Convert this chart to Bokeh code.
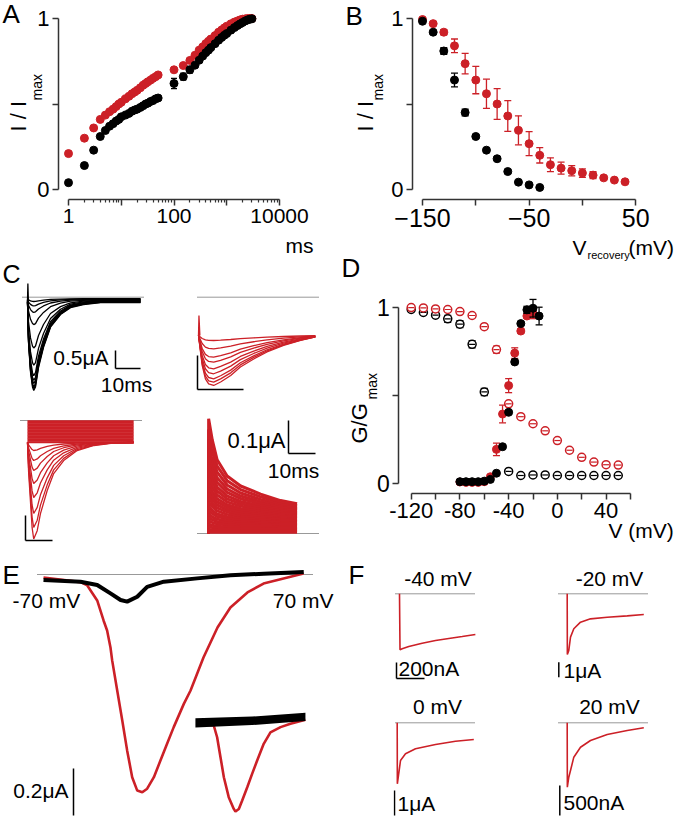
import math
from bokeh.plotting import figure
from bokeh.layouts import row, column
from bokeh.models import Range1d, FixedTicker, Label
from bokeh.embed import file_html
from bokeh.resources import INLINE

RED = "#CC2027"
BLACK = "#000000"
AXIS_COLOR = "#333333"
DOT_COLOR = "#333333"
FONT = "Liberation Sans"
MU = "\u03bc"

# ======================= DATA =======================
# ---- Panel A : recovery time course (ms, I/Imax)
A_time_ms = [1, 2, 3, 4, 5, 6, 7, 8, 9, 10, 12, 14, 16, 18, 20, 23, 26, 29, 32, 36, 40, 45, 50,
             100, 150, 200, 250, 300, 350, 400, 450, 500, 600, 700, 800, 900, 1000, 1200, 1400,
             1600, 1800, 2000, 2250, 2500, 2750, 3000]
A_red = [0.21, 0.30, 0.36, 0.41, 0.435, 0.455, 0.47, 0.485, 0.50, 0.51, 0.53, 0.545, 0.56, 0.57,
         0.58, 0.595, 0.61, 0.62, 0.63, 0.64, 0.65, 0.66, 0.67,
         0.70, 0.725, 0.755, 0.785, 0.815, 0.834, 0.853, 0.867, 0.88, 0.90, 0.92, 0.933, 0.945,
         0.955, 0.969, 0.979, 0.986, 0.992, 0.996, 0.998, 1.0, 1.0, 1.0]
A_black = [0.04, 0.14, 0.23, 0.31, 0.345, 0.37, 0.385, 0.40, 0.41, 0.425, 0.435, 0.445, 0.458,
           0.465, 0.47, 0.48, 0.49, 0.50, 0.505, 0.515, 0.52, 0.53, 0.535,
           0.62, 0.66, 0.70, 0.727, 0.756, 0.78, 0.80, 0.815, 0.83, 0.853, 0.873, 0.889, 0.902,
           0.912, 0.932, 0.947, 0.959, 0.969, 0.977, 0.986, 0.992, 0.996, 0.998]
A_black_err = [0] * 23 + [0.03, 0.02, 0.02, 0.012, 0.012, 0.012, 0.01, 0.01, 0.01, 0.01] + [0] * 13
A_xticks = [1, 10, 100, 1000, 10000]
A_xminor = [2, 3, 4, 5, 6, 7, 8, 9, 20, 30, 40, 50, 60, 70, 80, 90, 200, 300, 400, 500, 600,
            700, 800, 900, 2000, 3000, 4000, 5000, 6000, 7000, 8000, 9000]
A_xlabels = {1: "1", 10: "", 100: "100", 1000: "", 10000: "10000"}
Y_TICKS = [0, 0.5, 1]
Y_LABELS = {0: "0", 0.5: "", 1: "1"}

# ---- Panel B : voltage dependence of recovery
B_v_red = [-150, -140, -130, -120, -110, -100, -90, -80, -70, -60, -50, -40, -30, -20, -10, 0,
           10, 20, 30, 40]
B_red = [0.994, 0.97, 0.92, 0.84, 0.736, 0.64, 0.56, 0.50, 0.43, 0.346, 0.268, 0.20, 0.145,
         0.125, 0.11, 0.096, 0.084, 0.068, 0.055, 0.045]
B_red_err = [0.005, 0.01, 0.015, 0.04, 0.06, 0.08, 0.085, 0.09, 0.09, 0.085, 0.07, 0.045, 0.04,
             0.035, 0.03, 0.025, 0.02, 0.01, 0.008, 0.005]
B_v_black = [-150, -140, -130, -120, -110, -100, -90, -80, -70, -60, -50, -40]
B_black = [0.984, 0.92, 0.81, 0.64, 0.45, 0.31, 0.23, 0.18, 0.105, 0.043, 0.027, 0.012]
B_black_err = [0.005, 0.01, 0.02, 0.04, 0.02, 0.01, 0.01, 0.01, 0.01, 0.005, 0.005, 0.005]
B_xticks = [-150, -100, -50, 0, 50]
B_xlabels = {-150: "\u2212150", -100: "", -50: "\u221250", 0: "", 50: "50"}

# ---- Panel D : steady-state inactivation (open) and activation (filled)
D_v_open_red = [-120, -110, -100, -90, -80, -70, -60, -50, -40, -30, -20, -10, 0, 10, 20, 30, 40, 50]
D_red_open = [0.998, 0.996, 0.99, 0.987, 0.975, 0.953, 0.89, 0.76, 0.453, 0.38, 0.34, 0.30,
              0.245, 0.19, 0.15, 0.123, 0.108, 0.106]
D_red_open_err = [0.004, 0.004, 0.004, 0.004, 0.006, 0.008, 0.01, 0.02, 0.01, 0.008, 0.006,
                  0.006, 0.006, 0.006, 0.006, 0.006, 0.006, 0.006]
D_v_open_black = [-120, -110, -100, -90, -80, -70, -60, -40, -30, -20, -10, 0, 10, 20, 30, 40, 50]
D_black_open = [0.987, 0.97, 0.955, 0.934, 0.904, 0.79, 0.52, 0.07, 0.047, 0.05, 0.05, 0.047,
                0.047, 0.047, 0.047, 0.047, 0.047]
D_black_open_err = [0.006, 0.008, 0.01, 0.02, 0.02, 0.02, 0.02, 0.008, 0.006, 0.006, 0.006,
                    0.006, 0.006, 0.006, 0.006, 0.006, 0.006]
D_v_fill_black = [-80, -75, -70, -65, -60, -55, -50, -45, -40, -35, -30, -25, -20, -15]
D_black_fill = [0.012, 0.012, 0.012, 0.012, 0.015, 0.025, 0.06, 0.21, 0.405, 0.69, 0.907,
                0.985, 0.994, 0.95]
D_black_fill_err = [0, 0, 0, 0, 0, 0, 0, 0.01, 0.01, 0.01, 0.01, 0.02, 0.05, 0.05]
D_v_fill_red = [-80, -75, -70, -65, -60, -55, -50, -45, -40, -35, -30, -25, -20]
D_red_fill = [0.01, 0.008, 0.008, 0.008, 0.012, 0.04, 0.195, 0.395, 0.556, 0.74, 0.865, 0.95, 0.965]
D_red_fill_err = [0, 0, 0, 0, 0, 0.01, 0.035, 0.05, 0.04, 0.03, 0.01, 0.01, 0.03]
D_xticks = [-120, -100, -80, -60, -40, -20, 0, 20, 40, 60]
D_xlabels = {-120: "-120", -100: "", -80: "-80", -60: "", -40: "-40", -20: "", 0: "0",
             20: "", 40: "40", 60: ""}

# ---- Panel C : current families (t in ms, I in uA)
C1_t = [0, 0.4, 1.2, 2.0, 2.5, 3.2, 4.4, 6.4, 9.2, 13.2, 17.2, 22.4, 29.2, 45.2]
C1_shape = [0, 0.45, 0.79, 0.96, 1.0, 0.96, 0.74, 0.51, 0.28, 0.136, 0.057, 0.023, 0.0, 0.0]
C1_peak = [0.08, 0.19, 0.36, 0.69, 1.33, 1.8, 2.08, 2.2, 2.28, 2.36, 2.4, 2.44]
C1_hold = [-0.04, -0.05, -0.06, -0.07, -0.08, -0.09, -0.10, -0.11, -0.12, -0.13, -0.14, -0.15]
C1_spike_t = [0, 0.15, 0.35]
C1_spike_i = [-0.09, 0.38, -0.09]

C2_t = [0, 0.8, 1.5, 2.2, 3.3, 4.8, 7.0, 9.1, 12.0, 14.9, 18.5, 22.2, 25.4]
C2_shape = [0, 0.6, 0.87, 0.97, 1.0, 0.93, 0.8, 0.63, 0.47, 0.33, 0.2, 0.1, 0.03]
C2_peak = [0.074, 0.196, 0.319, 0.393, 0.49, 0.563, 0.637, 0.687, 0.735]
C2_hold = -0.563
C2_spike_t = [0, 0.1, 0.3]
C2_spike_i = [-0.563, -0.27, -0.563]

C3_t = [0, 0.4, 1.7, 2.3, 3.6, 4.8, 7.3, 9.7, 13.4, 18.4, 24.6, 30.9, 39.3]
C3_shape = [0, 0.3, 0.88, 1.0, 0.914, 0.737, 0.498, 0.322, 0.187, 0.083, 0.031, 0.008, 0.0]
C3_peak = [0.16, 0.36, 0.56, 0.82, 1.1, 1.42, 1.7, 1.93]
C3_hold = -0.44
C3_band_t = [0, 39.3]
C3_band = [-0.015, -0.045, -0.075, -0.105, -0.135, -0.165, -0.195, -0.225, -0.255, -0.285,
           -0.315, -0.345, -0.375, -0.405, -0.435]

C4_t = [0.05, 1.4, 3.2, 6.9, 11.9, 19.3, 26.7, 32.8]
C4_shape = [1.0, 0.75, 0.517, 0.327, 0.209, 0.114, 0.038, 0.0]
C4_steady = [0.09, 0.085, 0.08, 0.076, 0.072, 0.068, 0.064, 0.06, 0.056, 0.052, 0.048, 0.044,
             0.04, 0.036, 0.032, 0.028, 0.024, 0.02, 0.016, 0.012, 0.008, 0.004]
C4_peak = [0.258, 0.23, 0.205, 0.18, 0.16, 0.14, 0.125, 0.11, 0.095, 0.085, 0.075, 0.065,
           0.055, 0.045, 0.038, 0.03, 0.024, 0.018, 0.012, 0.008, 0.004, 0.0]

# ---- Panel E : ramp currents (x in mV of the ramp, I in uA)
E_red_v = [-70, -50.2, -46.6, -41.3, -37.9, -36.0, -34.2, -33.3, -30.6, -27.9, -25.3, -22.6,
           -19.9, -17.2, -14.6, -11.0, -7.5, -3.9, -0.4, 5.0, 8.6, 15.5, 23.0, 29.9, 39.0,
           47.6, 58.3, 69.0]
E_red_i = [-0.004, -0.024, -0.038, -0.102, -0.187, -0.23, -0.302, -0.357, -0.485, -0.613,
           -0.74, -0.854, -0.911, -0.918, -0.903, -0.854, -0.783, -0.711, -0.641, -0.542,
           -0.485, -0.345, -0.217, -0.132, -0.068, -0.030, -0.0085, 0.013]
E_black_v = [-70, -50.2, -41.3, -34.2, -28.8, -25.3, -19.9, -14.6, -5.7, 12.1, 29.9, 47.7, 69.1]
E_black_i = [-0.015, -0.022, -0.036, -0.072, -0.1, -0.107, -0.086, -0.044, -0.022, -0.008,
             0.005, 0.012, 0.019]
E_ins_black_v = [11.2, 41.5, 70.0]
E_ins_black_lo = [-0.643, -0.632, -0.615]
E_ins_black_hi = [-0.603, -0.596, -0.580]
E_ins_red_v = [12.1, 21.0, 22.8, 24.6, 26.4, 29.0, 31.7, 32.6, 34.4, 36.2, 38.9, 41.5, 44.2,
               47.7, 51.3, 56.7, 62.0, 70.0]
E_ins_red_i = [-0.627, -0.634, -0.684, -0.769, -0.854, -0.939, -0.989, -1.0, -0.989, -0.953,
               -0.897, -0.84, -0.783, -0.712, -0.663, -0.641, -0.627, -0.61]

# ---- Panel F : single traces (t in ms, I in uA)
F1_t = [0, 1.8, 9.6, 33.2, 81, 128.6, 176, 224, 271]
F1_i = [0, -0.70, -0.688, -0.659, -0.618, -0.584, -0.559, -0.534, -0.509]
F2_t = [0, 0.5, 5.7, 11.8, 23.6, 47.5, 83.2, 142.9, 214.3, 273.6]
F2_i = [0, -4.05, -3.78, -2.89, -2.33, -1.89, -1.67, -1.56, -1.47, -1.38]
F3_t = [0, 0.5, 11.8, 29.6, 65.4, 136.8, 208.2, 273.6]
F3_i = [0, -2.44, -1.51, -1.24, -1.04, -0.868, -0.736, -0.668]
F4_t = [0, 0.5, 5.7, 11.8, 23.6, 47.5, 83.2, 142.9, 214.3, 273.6]
F4_i = [0, -1.073, -0.907, -0.795, -0.573, -0.407, -0.295, -0.195, -0.128, -0.083]


# ======================= HELPERS =======================
# All positions below are page pixels (x from left, y from top); each figure knows its origin.
def add_text(p, x, y, text, size, align="left", baseline="middle", angle=0.0, color="black"):
    p.add_layout(Label(x=x, y=y, text=text, text_font=FONT, text_font_size=f"{size}px",
                       text_align=align, text_baseline=baseline, angle=angle,
                       text_color=color))


def base_figure(ox, oy, w, h, fx, fy, x_log=False, axes=False):
    kw = dict(width=w, height=h,
              x_range=Range1d(fx(ox), fx(ox + w)), y_range=Range1d(fy(oy + h), fy(oy)),
              x_axis_type="log" if x_log else "linear",
              toolbar_location=None, output_backend="svg", min_border=0)
    if not axes:
        kw.update(x_axis_location=None, y_axis_location=None)
    p = figure(**kw)
    p.outline_line_color = None
    p.grid.visible = False
    p.background_fill_color = "white"
    p.border_fill_color = "white"
    return p


def axes_figure(ox, oy, w, h, fx, fy, yaxis_px, xaxis_px, x_log=False, tick_size=21, ytick_size=22):
    p = base_figure(ox, oy, w, h, fx, fy, x_log=x_log, axes=True)
    for ax in p.axis:
        ax.axis_line_color = AXIS_COLOR
        ax.axis_line_width = 1.5
        ax.major_tick_line_color = AXIS_COLOR
        ax.major_tick_line_width = 1.5
        ax.major_tick_out = 6
        ax.major_tick_in = 0
        ax.minor_tick_line_color = AXIS_COLOR
        ax.minor_tick_line_width = 1.2
        ax.minor_tick_out = 0
        ax.minor_tick_in = 0
        ax.major_label_text_font = FONT
        ax.major_label_text_color = "black"
        ax.major_label_standoff = 3
    p.xaxis.major_label_text_font_size = f"{tick_size}px"
    p.yaxis.major_label_text_font_size = f"{ytick_size}px"
    p.yaxis.fixed_location = fx(yaxis_px)
    p.xaxis.fixed_location = fy(xaxis_px)
    p.yaxis.ticker = FixedTicker(ticks=Y_TICKS)
    p.yaxis.major_label_overrides = Y_LABELS
    p.yaxis.bounds = (0, 1)
    return p


def lin_map(px_at_v, v, ppu, down=False):
    if down:
        return lambda px: v - (px - px_at_v) / ppu
    return lambda px: v + (px - px_at_v) / ppu


def errorbars(p, xs, ys, es, color, cap=7, lw=1.3):
    sel = [(x, y, e) for x, y, e in zip(xs, ys, es) if e > 0]
    if not sel:
        return
    ex = [s[0] for s in sel]
    lo = [s[1] - s[2] for s in sel]
    hi = [s[1] + s[2] for s in sel]
    p.segment(x0=ex, y0=lo, x1=ex, y1=hi, line_color=color, line_width=lw)
    p.scatter(x=ex + ex, y=lo + hi, marker="dash", size=cap, line_color=color, line_width=lw)


def dotted(p, x0, x1, y):
    p.line([x0, x1], [y, y], line_color=DOT_COLOR, line_width=1, line_dash="1 1")


def scalebar(p, x, y, dy=None, dx=None, color="black", lw=1.5):
    if dy is not None:
        p.line([x, x], [y, y + dy], line_color=color, line_width=lw)
    if dx is not None:
        p.line([x, x + dx], [y, y], line_color=color, line_width=lw)


def ylabel_rot(p, fx, fy, cx, y_start, main, sub, cx_sub, y_sub, size=22, sub_size=14):
    add_text(p, fx(cx), fy(y_start), main, size, angle=math.pi / 2)
    add_text(p, fx(cx_sub), fy(y_sub), sub, sub_size, angle=math.pi / 2)


# ======================= PANEL A =======================
A_fx = lambda px: 10 ** ((px - 68) / 52.75)
A_fy = lambda py: (189 - py) / 171.0
pA = axes_figure(0, 0, 338, 260, A_fx, A_fy, 58, 199, x_log=True)
pA.xaxis.ticker = FixedTicker(ticks=A_xticks, minor_ticks=A_xminor)
pA.xaxis.major_label_overrides = A_xlabels
pA.xaxis.minor_tick_out = 3
pA.xaxis.bounds = (1, 10000)
pA.scatter(A_time_ms, A_red, size=8, color=RED)
errorbars(pA, A_time_ms, A_black, A_black_err, BLACK, cap=6)
pA.scatter(A_time_ms, A_black, size=8, color=BLACK)
add_text(pA, A_fx(2), A_fy(13), "A", 26)
ylabel_rot(pA, A_fx, A_fy, 17.5, 131, "I / I", "max", 36.5, 100)
add_text(pA, A_fx(285), A_fy(245), "ms", 21)

# ======================= PANEL B =======================
B_fx = lambda px: -150 + (px - 422) / 1.066
B_fy = A_fy
pB = axes_figure(338, 0, 339, 236, B_fx, B_fy, 412, 199, tick_size=25)
pB.xaxis.ticker = FixedTicker(ticks=B_xticks)
pB.xaxis.major_label_overrides = B_xlabels
pB.xaxis.bounds = (-150, 50)
errorbars(pB, B_v_red, B_red, B_red_err, RED)
pB.scatter(B_v_red, B_red, size=8, color=RED)
errorbars(pB, B_v_black, B_black, B_black_err, BLACK)
pB.scatter(B_v_black, B_black, size=8, color=BLACK)
add_text(pB, B_fx(345), B_fy(15), "B", 26)
ylabel_rot(pB, B_fx, B_fy, 365, 131, "I / I", "max", 377, 100)

# ======================= PANEL C =======================
C1_fx, C1_fy = lin_map(27, 0, 2.5), lin_map(296.7, 0, 36.0, down=True)
pC1 = base_figure(0, 260, 180, 140, C1_fx, C1_fy)
dotted(pC1, C1_fx(22), C1_fx(143), 0)
pC1.multi_line(xs=[C1_t] * len(C1_peak),
               ys=[[h - a * s for s in C1_shape] for a, h in zip(C1_peak, C1_hold)],
               line_color=BLACK, line_width=1.3)
pC1.line(C1_spike_t, C1_spike_i, line_color=BLACK, line_width=1.3)
scalebar(pC1, C1_fx(115), C1_fy(368), dy=0.5, dx=10)
add_text(pC1, C1_fx(108), C1_fy(357), "0.5" + MU + "A", 21, align="right")
add_text(pC1, C1_fx(126), C1_fy(384), "10ms", 21, align="center")
add_text(pC1, C1_fx(2), C1_fy(273.5), "C", 25)

C2_fx, C2_fy = lin_map(198, 0, 4.6), lin_map(296.7, 0, 68.0, down=True)
pC2 = base_figure(180, 260, 158, 140, C2_fx, C2_fy)
dotted(pC2, C2_fx(197), C2_fx(318), 0)
pC2.multi_line(xs=[C2_t] * len(C2_peak),
               ys=[[C2_hold - a * s for s in C2_shape] for a in C2_peak],
               line_color=RED, line_width=1.3)
pC2.line(C2_spike_t, C2_spike_i, line_color=RED, line_width=1.3)
scalebar(pC2, C2_fx(197), C2_fy(389), dy=0.5, dx=10)

C3_fx, C3_fy = lin_map(27, 0, 2.7), lin_map(420, 0, 50.0, down=True)
pC3 = base_figure(0, 400, 180, 145, C3_fx, C3_fy)
dotted(pC3, C3_fx(20), C3_fx(142), 0)
pC3.multi_line(xs=[C3_band_t] * len(C3_band), ys=[[b, b] for b in C3_band],
               line_color=RED, line_width=2.0)
pC3.multi_line(xs=[C3_t] * len(C3_peak),
               ys=[[C3_hold - a * s for s in C3_shape] for a in C3_peak],
               line_color=RED, line_width=1.3)
scalebar(pC3, C3_fx(25), C3_fy(540), dy=0.5, dx=10)

C4_fx, C4_fy = lin_map(208, 0, 2.7), lin_map(533, 0, 330.0, down=True)
pC4 = base_figure(180, 400, 158, 145, C4_fx, C4_fy)
dotted(pC4, C4_fx(197), C4_fx(318), 0)
pC4.multi_line(xs=[[0] + C4_t] * len(C4_peak),
               ys=[[0] + [ss + a * s for s in C4_shape] for a, ss in zip(C4_peak, C4_steady)],
               line_color=RED, line_width=3.0)
scalebar(pC4, C4_fx(288), C4_fy(453), dy=0.1, dx=10)
add_text(pC4, C4_fx(285), C4_fy(440), "0.1" + MU + "A", 22, align="right")
add_text(pC4, C4_fx(293), C4_fy(470), "10ms", 21, align="center")

# ======================= PANEL D =======================
D_fx = lambda px: -120 + (px - 410.7) / 1.218
D_fy = lambda py: (483.3 - py) / 176.6
pD = axes_figure(338, 236, 339, 309, D_fx, D_fy, 398.3, 493.3, tick_size=22, ytick_size=23)
pD.xaxis.ticker = FixedTicker(ticks=D_xticks)
pD.xaxis.major_label_overrides = D_xlabels
pD.xaxis.bounds = (-120, 60)
errorbars(pD, D_v_open_black, D_black_open, D_black_open_err, BLACK)
pD.scatter(D_v_open_black, D_black_open, size=8, fill_color="white", line_color=BLACK, line_width=1.5)
pD.scatter(D_v_open_black, D_black_open, marker="dash", size=6, line_color=BLACK, line_width=1.2)
errorbars(pD, D_v_open_red, D_red_open, D_red_open_err, RED)
pD.scatter(D_v_open_red, D_red_open, size=8, fill_color="white", line_color=RED, line_width=1.5)
pD.scatter(D_v_open_red, D_red_open, marker="dash", size=6, line_color=RED, line_width=1.2)
errorbars(pD, D_v_fill_red, D_red_fill, D_red_fill_err, RED)
pD.scatter(D_v_fill_red, D_red_fill, size=8, color=RED)
errorbars(pD, D_v_fill_black, D_black_fill, D_black_fill_err, BLACK)
pD.scatter(D_v_fill_black, D_black_fill, size=8, color=BLACK)
add_text(pD, D_fx(341), D_fy(267), "D", 26)
ylabel_rot(pD, D_fx, D_fy, 358.5, 443, "G/G", "max", 371.5, 399)
add_text(pD, D_fx(608), D_fy(530), "V (mV)", 21)
# x-axis title of panel B sits in this strip
add_text(pD, D_fx(572), D_fy(246.5), "V", 21)
add_text(pD, D_fx(587), D_fy(254), "recovery", 11)
add_text(pD, D_fx(628), D_fy(246.5), "(mV)", 21)

# ======================= PANEL E =======================
E_fx, E_fy = lin_map(43, -70, 1.871), lin_map(576, 0, 235.0, down=True)
pE = base_figure(0, 545, 393, 275, E_fx, E_fy)
dotted(pE, E_fx(37), E_fx(312), E_fy(574))
pE.line(E_red_v, E_red_i, line_color=RED, line_width=2.6)
pE.line(E_black_v, E_black_i, line_color=BLACK, line_width=4)
pE.line(E_ins_red_v, E_ins_red_i, line_color=RED, line_width=2.6)
pE.varea(x=E_ins_black_v, y1=E_ins_black_lo, y2=E_ins_black_hi, fill_color=BLACK)
scalebar(pE, E_fx(73), E_fy(815), dy=0.2)
add_text(pE, E_fx(68), E_fy(790), "0.2" + MU + "A", 21, align="right")
add_text(pE, E_fx(12), E_fy(599.5), "-70 mV", 21)
add_text(pE, E_fx(333), E_fy(599.5), "70 mV", 21, align="right")
add_text(pE, E_fx(2), E_fy(574), "E", 26)
add_text(pE, E_fx(348), E_fy(574), "F", 26)

# ======================= PANEL F =======================
F1_fx, F1_fy = lin_map(399, 0, 0.28), lin_map(593.3, 0, 80.0, down=True)
pF1 = base_figure(393, 545, 137, 145, F1_fx, F1_fy)
dotted(pF1, F1_fx(395), F1_fx(475), 0)
pF1.line(F1_t, F1_i, line_color=RED, line_width=1.6)
scalebar(pF1, F1_fx(396), F1_fy(678), dy=0.2, dx=100)
add_text(pF1, F1_fx(437.5), F1_fy(577.5), "-40 mV", 21, align="center")
add_text(pF1, F1_fx(398), F1_fy(668), "200nA", 21)

F2_fx, F2_fy = lin_map(566.7, 0, 0.28), lin_map(593.3, 0, 15.0, down=True)
pF2 = base_figure(530, 545, 147, 145, F2_fx, F2_fy)
dotted(pF2, F2_fx(558), F2_fx(647), 0)
pF2.line(F2_t, F2_i, line_color=RED, line_width=1.6)
scalebar(pF2, F2_fx(558.3), F2_fy(676.7), dy=1.0)
add_text(pF2, F2_fx(609), F2_fy(577.5), "-20 mV", 21, align="center")
add_text(pF2, F2_fx(563), F2_fy(669.5), "1" + MU + "A", 21)

F3_fx, F3_fy = lin_map(396.7, 0, 0.28), lin_map(722.3, 0, 25.0, down=True)
pF3 = base_figure(393, 690, 137, 130, F3_fx, F3_fy)
dotted(pF3, F3_fx(395), F3_fx(475), 0)
pF3.line(F3_t, F3_i, line_color=RED, line_width=1.6)
scalebar(pF3, F3_fx(394), F3_fy(815), dy=1.0)
add_text(pF3, F3_fx(437), F3_fy(705.5), "0 mV", 21, align="center")
add_text(pF3, F3_fx(397), F3_fy(803), "1" + MU + "A", 21)

F4_fx, F4_fy = lin_map(566.7, 0, 0.28), lin_map(722.3, 0, 60.0, down=True)
pF4 = base_figure(530, 690, 147, 130, F4_fx, F4_fy)
dotted(pF4, F4_fx(558), F4_fx(647), 0)
pF4.line(F4_t, F4_i, line_color=RED, line_width=1.6)
scalebar(pF4, F4_fx(559.3), F4_fy(815), dy=0.5)
add_text(pF4, F4_fx(609), F4_fy(705.5), "20 mV", 21, align="center")
add_text(pF4, F4_fx(563), F4_fy(802), "500nA", 21)

# ======================= LAYOUT =======================
layout = column(
    row(column(pA, column(row(pC1, pC2), row(pC3, pC4))), column(pB, pD)),
    row(pE, column(row(pF1, pF2), row(pF3, pF4))),
)

open("out.html", "w").write(file_html(layout, INLINE))
